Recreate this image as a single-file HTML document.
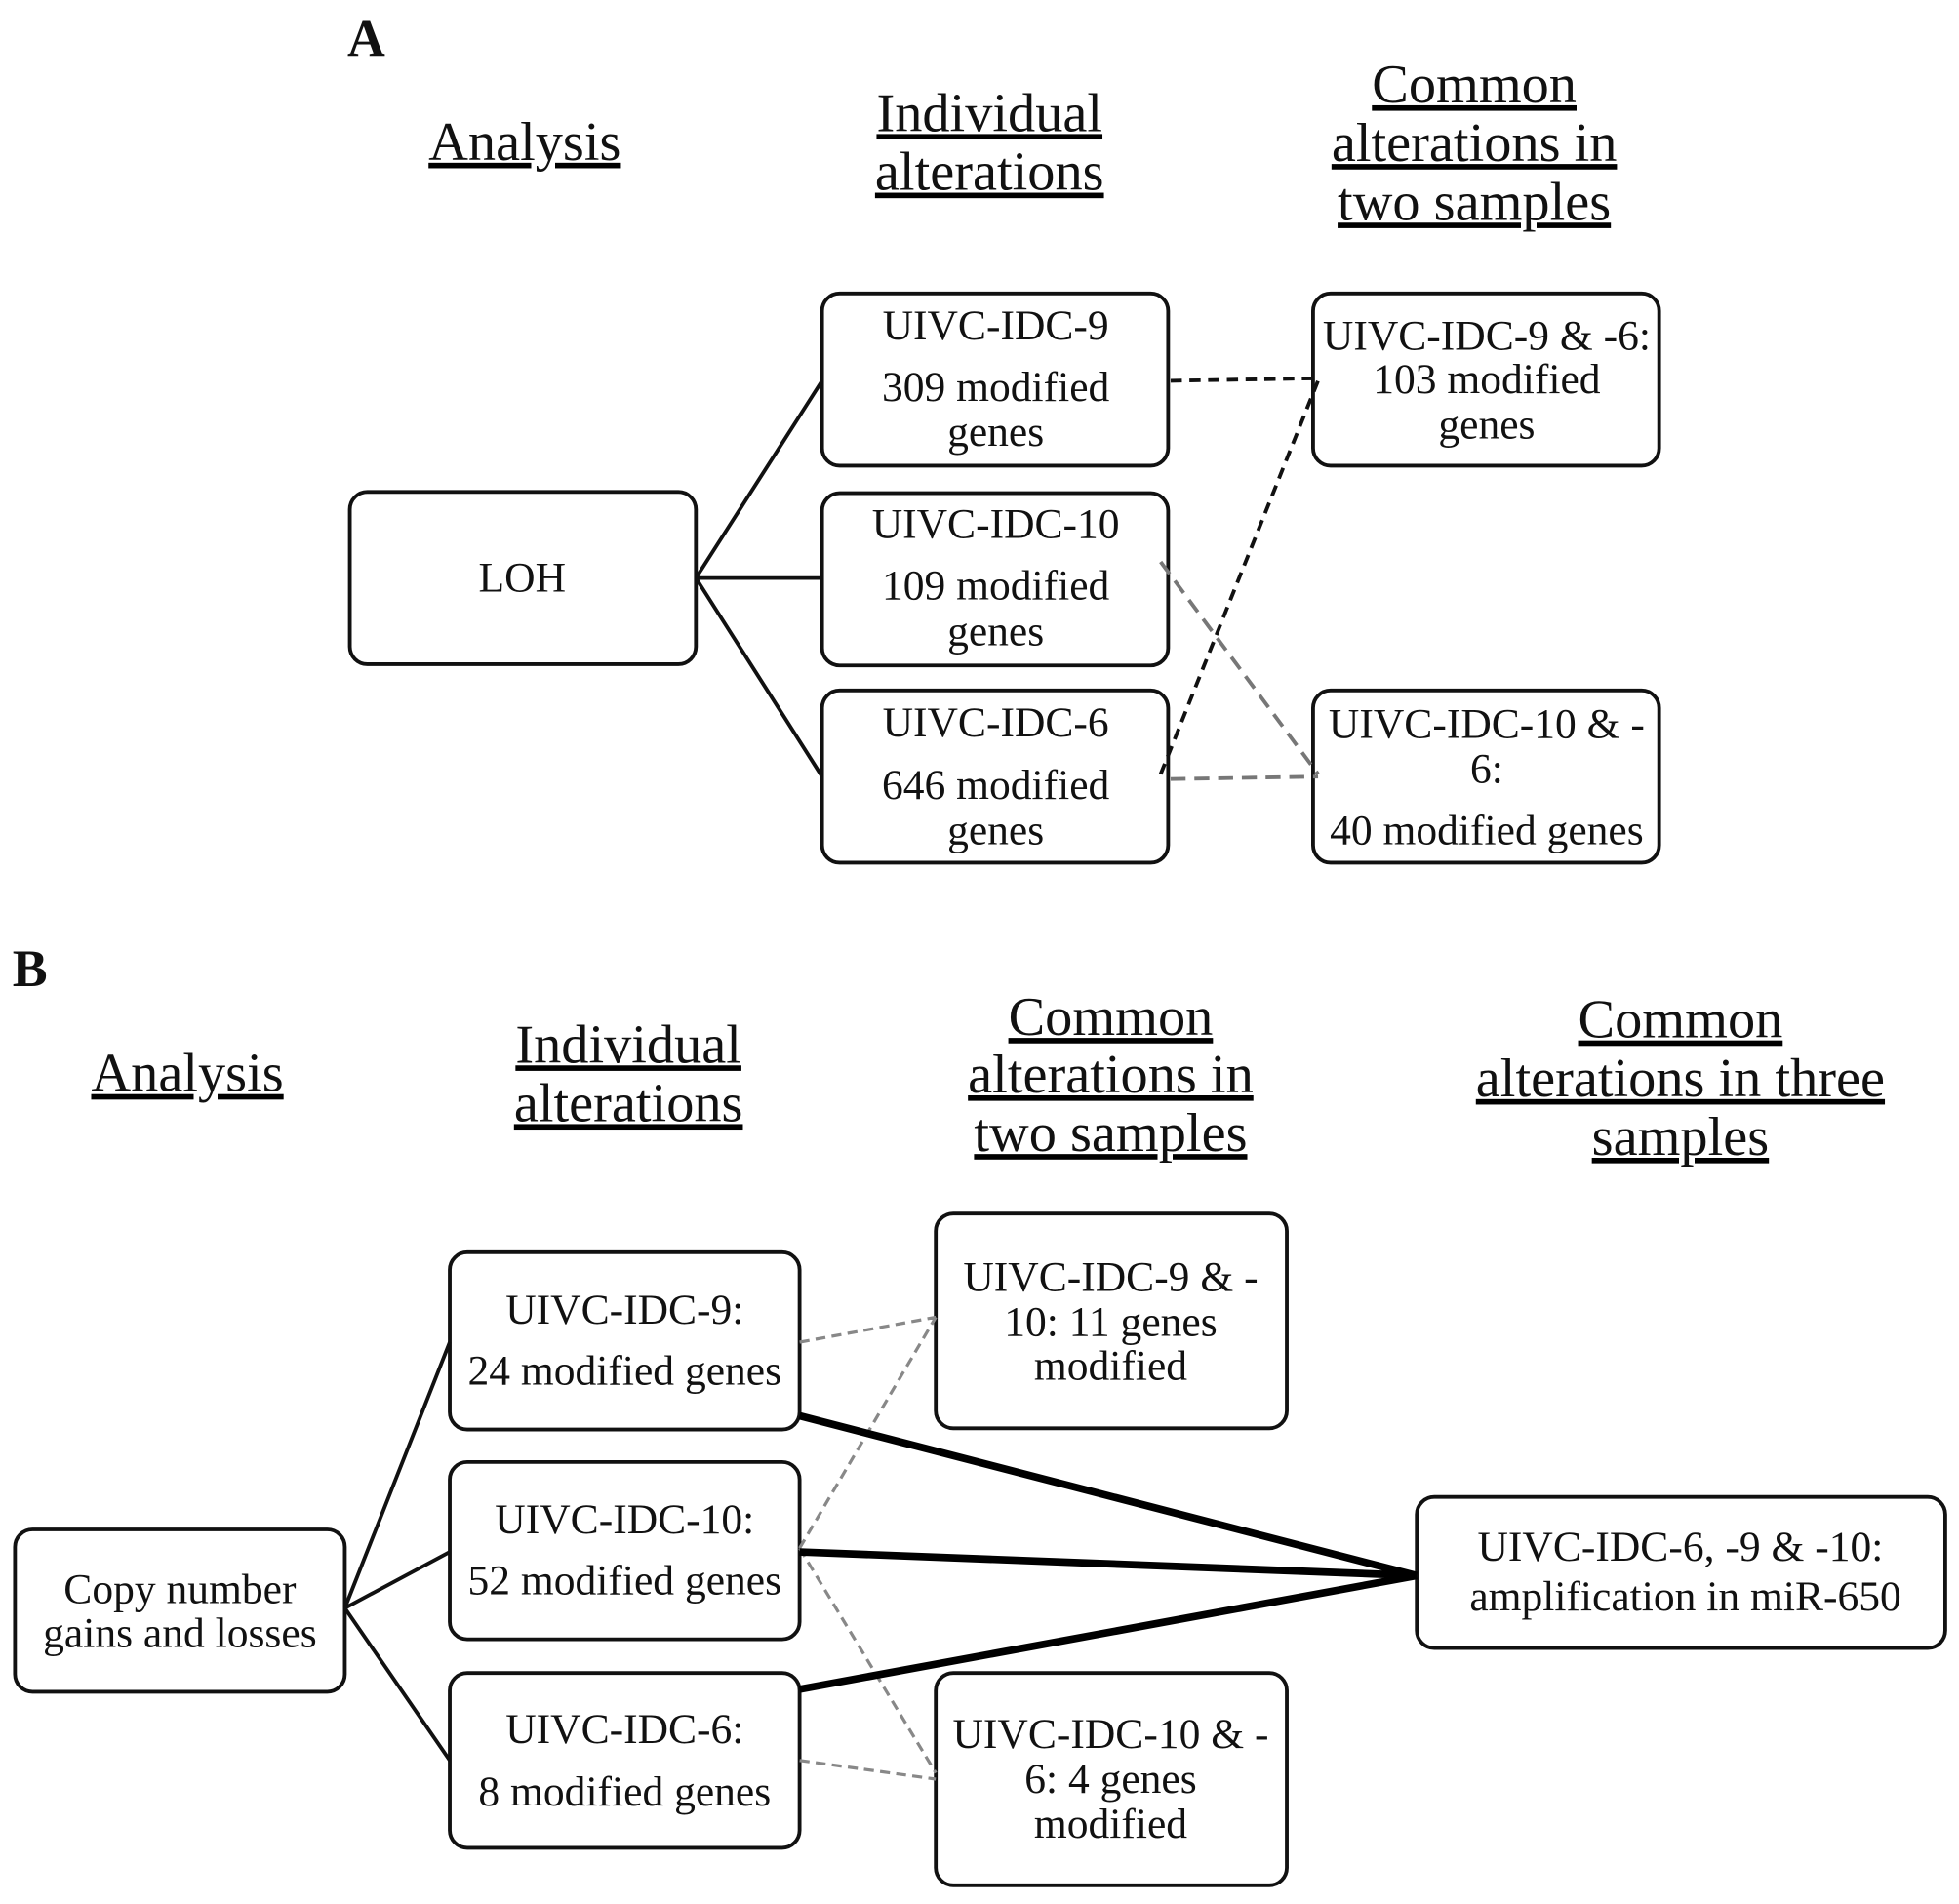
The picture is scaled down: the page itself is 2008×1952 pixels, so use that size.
<!DOCTYPE html>
<html><head><meta charset="utf-8"><style>
html,body{margin:0;padding:0;background:#fff;}
svg{display:block;}
text{font-family:"Liberation Serif",serif;fill:#111;}
</style></head><body>
<svg width="2008" height="1952" viewBox="0 0 1568 1525" preserveAspectRatio="none" xmlns="http://www.w3.org/2000/svg">
<g font-weight="bold" font-size="42">
<text x="278" y="45">A</text>
<text x="10" y="790">B</text>
</g>
<g font-size="44" text-anchor="middle" text-decoration="underline">
<text x="420" y="128">Analysis</text>
<text x="792" y="105">Individual</text>
<text x="792" y="152">alterations</text>
<text x="1180" y="82">Common</text>
<text x="1180" y="129">alterations in</text>
<text x="1180" y="176">two samples</text>
<text x="150" y="874">Analysis</text>
<text x="503" y="851">Individual</text>
<text x="503" y="898">alterations</text>
<text x="889" y="829">Common</text>
<text x="889" y="875">alterations in</text>
<text x="889" y="922">two samples</text>
<text x="1345" y="831">Common</text>
<text x="1345" y="878">alterations in three</text>
<text x="1345" y="925">samples</text>
</g>
<g fill="none" stroke="#111" stroke-width="3">
<rect x="280" y="394" width="277" height="138" rx="14"/>
<rect x="658" y="235" width="277" height="138" rx="14"/>
<rect x="658" y="395" width="277" height="138" rx="14"/>
<rect x="658" y="553" width="277" height="138" rx="14"/>
<rect x="1051" y="235" width="277" height="138" rx="14"/>
<rect x="1051" y="553" width="277" height="138" rx="14"/>
<rect x="12" y="1225" width="264" height="130" rx="14"/>
<rect x="360" y="1003" width="280" height="142" rx="14"/>
<rect x="360" y="1171" width="280" height="142" rx="14"/>
<rect x="360" y="1340" width="280" height="140" rx="14"/>
<rect x="749" y="972" width="281" height="172" rx="14"/>
<rect x="749" y="1340" width="281" height="170" rx="14"/>
<rect x="1134" y="1199" width="423" height="121" rx="14"/>
<path d="M557 463 L658 305 M557 463 L658 463 M557 463 L658 622"/>
<path d="M276 1288 L360 1075 M276 1288 L360 1243 M276 1288 L360 1410"/>
</g>
<g stroke="#111" stroke-width="3" stroke-dasharray="9,6" fill="none">
<path d="M937 305 L1055 303 M929 620 L1057 300"/>
</g>
<g stroke="#777" stroke-width="3" stroke-dasharray="12,7" fill="none">
<path d="M929 450 L1055 620 M937 624 L1055 622"/>
</g>
<g stroke="#888" stroke-width="2.5" stroke-dasharray="8,5" fill="none">
<path d="M640 1075 L749 1055 M640 1240 L749 1055 M640 1240 L749 1420 M640 1410 L749 1425"/>
</g>
<g stroke="#000" stroke-width="6" fill="none">
<path d="M640 1134 L1134 1262 M640 1243 L1134 1262 M640 1353 L1134 1262"/>
</g>
<g font-size="34" text-anchor="middle">
<text x="418" y="474">LOH</text>
<text x="797" y="272">UIVC-IDC-9</text>
<text x="797" y="321">309 modified</text>
<text x="797" y="357">genes</text>
<text x="797" y="431">UIVC-IDC-10</text>
<text x="797" y="480">109 modified</text>
<text x="797" y="517">genes</text>
<text x="797" y="590">UIVC-IDC-6</text>
<text x="797" y="640">646 modified</text>
<text x="797" y="676">genes</text>
<text x="1190" y="280">UIVC-IDC-9 &amp; -6:</text>
<text x="1190" y="315">103 modified</text>
<text x="1190" y="351">genes</text>
<text x="1190" y="591">UIVC-IDC-10 &amp; -</text>
<text x="1190" y="627">6:</text>
<text x="1190" y="676">40 modified genes</text>
<text x="144" y="1284">Copy number</text>
<text x="144" y="1319">gains and losses</text>
<text x="500" y="1060">UIVC-IDC-9:</text>
<text x="500" y="1109">24 modified genes</text>
<text x="500" y="1228">UIVC-IDC-10:</text>
<text x="500" y="1277">52 modified genes</text>
<text x="500" y="1396">UIVC-IDC-6:</text>
<text x="500" y="1446">8 modified genes</text>
<text x="889" y="1034">UIVC-IDC-9 &amp; -</text>
<text x="889" y="1070">10: 11 genes</text>
<text x="889" y="1105">modified</text>
<text x="889" y="1400">UIVC-IDC-10 &amp; -</text>
<text x="889" y="1436">6: 4 genes</text>
<text x="889" y="1472">modified</text>
<text x="1345" y="1250">UIVC-IDC-6, -9 &amp; -10:</text>
<text x="1349" y="1290">amplification in miR-650</text>
</g>
</svg>
</body></html>
